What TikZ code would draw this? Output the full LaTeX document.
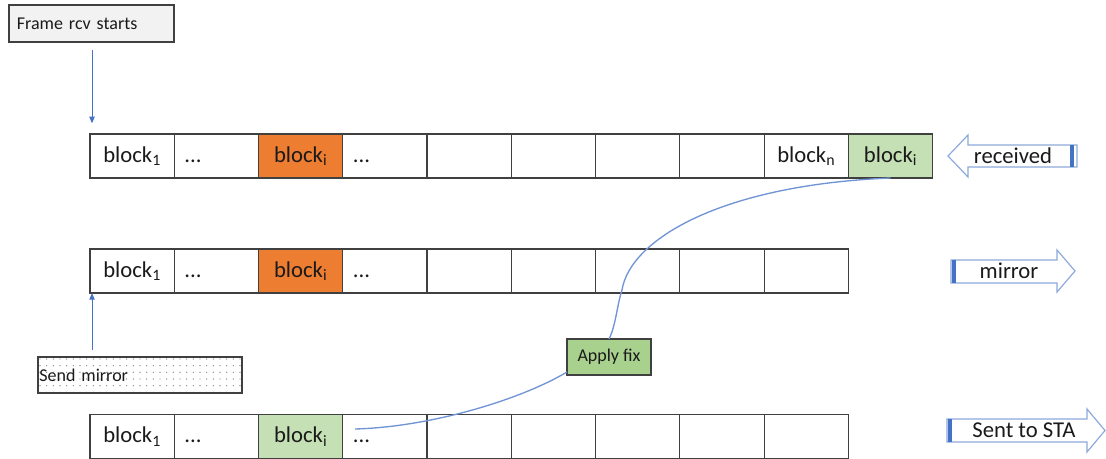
\documentclass[tikz,border=0pt]{standalone}
\usepackage{fontspec}
\setmainfont{Carlito}
\usetikzlibrary{positioning,patterns.meta,arrows.meta,calc}
\definecolor{cellline}{HTML}{404040}
\definecolor{orangeblk}{HTML}{ED7D31}
\definecolor{greenblk}{HTML}{C5E0B4}
\definecolor{fixgreen}{HTML}{A9D18E}
\definecolor{linkblue}{HTML}{7094D4}
\definecolor{barblue}{HTML}{4472C4}
\definecolor{arrowline}{HTML}{8EA9DB}
\definecolor{boxgray}{HTML}{F2F2F2}
\definecolor{txt}{HTML}{1A1A1A}
\definecolor{dotgray}{HTML}{8C8C8C}
\begin{document}
\begin{tikzpicture}[x=0.75pt,y=-0.75pt,
  every node/.style={text=txt},
  cell/.style={draw=cellline, line width=0.9pt, minimum width=63.2pt, minimum height=33pt,
    inner sep=0pt, outer sep=0pt, text height=12.5pt, text depth=3pt,
    font=\fontsize{17}{20}\selectfont},
  dotcell/.style={cell, text width=48pt, align=left},
  orangecell/.style={cell, fill=orangeblk},
  greencell/.style={cell, fill=greenblk},
  labelbox/.style={draw=cellline, line width=1pt, inner sep=0pt, outer sep=0pt,
    font=\fontsize{13.5}{16}\selectfont},
  conn/.style={draw=barblue, line width=0.75pt, -{Triangle[length=5pt,width=4pt]}},
  link/.style={draw=linkblue, line width=1pt},
  blockarrow/.style={draw=arrowline, line width=0.9pt, fill=white, line join=miter},
  bar/.style={draw=barblue, line width=2.4pt},
  arrowtext/.style={font=\fontsize{17}{20}\selectfont, inner sep=0pt}
]
\useasboundingbox (0,0) rectangle (1106,459);

% Row 1 (received)
\node[cell] (a1) at (132.15,156) {block\textsubscript{1}};
\node[dotcell, right=0pt of a1] (a2) {...};
\node[orangecell, right=0pt of a2] (a3) {block\textsubscript{i}};
\node[dotcell, right=0pt of a3] (a4) {...};
\node[cell, right=0pt of a4] (a5) {};
\node[cell, right=0pt of a5] (a6) {};
\node[cell, right=0pt of a6] (a7) {};
\node[cell, right=0pt of a7] (a8) {};
\node[cell, right=0pt of a8] (a9) {block\textsubscript{n}};
\node[greencell, right=0pt of a9] (a10) {block\textsubscript{i}};

% Row 2 (mirror)
\node[cell] (b1) at (132.15,271) {block\textsubscript{1}};
\node[dotcell, right=0pt of b1] (b2) {...};
\node[orangecell, right=0pt of b2] (b3) {block\textsubscript{i}};
\node[dotcell, right=0pt of b3] (b4) {...};
\node[cell, right=0pt of b4] (b5) {};
\node[cell, right=0pt of b5] (b6) {};
\node[cell, right=0pt of b6] (b7) {};
\node[cell, right=0pt of b7] (b8) {};
\node[cell, right=0pt of b8] (b9) {};

% Row 3 (sent to STA)
\node[cell] (c1) at (132.15,436.5) {block\textsubscript{1}};
\node[dotcell, right=0pt of c1] (c2) {...};
\node[greencell, right=0pt of c2] (c3) {block\textsubscript{i}};
\node[dotcell, right=0pt of c3] (c4) {...};
\node[cell, right=0pt of c4] (c5) {};
\node[cell, right=0pt of c5] (c6) {};
\node[cell, right=0pt of c6] (c7) {};
\node[cell, right=0pt of c7] (c8) {};
\node[cell, right=0pt of c8] (c9) {};

% Label boxes
\node[labelbox, fill=boxgray, anchor=north west, minimum width=123.75pt, minimum height=27.75pt,
  text width=112pt, align=left] (frame) at (9,5) {Frame rcv starts};
\node[labelbox, anchor=north west, minimum width=153pt, minimum height=27pt,
  text width=151pt, align=left, preaction={fill=white},
  pattern={Dots[distance=5pt,radius=0.55pt]}, pattern color=dotgray] (send) at (38,357) {Send mirror};
\node[labelbox, fill=fixgreen, minimum width=63pt, minimum height=27pt] (fix) at (609,357) {Apply fix};

% Connectors
\draw[conn, shorten <=6pt, shorten >=8pt] ($(a1.north west |- frame.south)+(2,0)$) -- ($(a1.north west)+(2,0)$);
\draw[conn, shorten <=5pt] ($(b1.south west |- send.north)+(2,0)$) -- ($(b1.south west)+(2,0)$);

\coordinate (bend) at (622,290);
\draw[link] (fix.north) .. controls (616,325) and (617,305) .. (bend)
  .. controls (630,240) and (720,185) .. (a10.south);
\coordinate (lowstart) at (355,429);
\draw[link] (lowstart) .. controls (430,427) and (520,400) .. ($(fix.south west)+(0,-3)$);

% Block arrows
\draw[blockarrow] (948,156) -- (968,135) -- (968,145) -- (1077,145) -- (1077,167) -- (968,167) -- (968,177) -- cycle;
\draw[bar] (1072,145) -- (1072,167);
\node[arrowtext] (recv) at (1013,156) {received};

\draw[blockarrow] (951,260) -- (1057,260) -- (1057,250) -- (1075,271) -- (1057,292) -- (1057,283) -- (951,283) -- cycle;
\draw[bar] (954,260) -- (954,283);
\node[arrowtext] (mirr) at (1009,271) {mirror};

\draw[blockarrow] (947,419) -- (1087,419) -- (1087,409) -- (1105,430.5) -- (1087,452) -- (1087,442) -- (947,442) -- cycle;
\draw[bar] (950,419) -- (950,442);
\node[arrowtext] (sent) at (1024,430.5) {Sent to STA};
\end{tikzpicture}
\end{document}
